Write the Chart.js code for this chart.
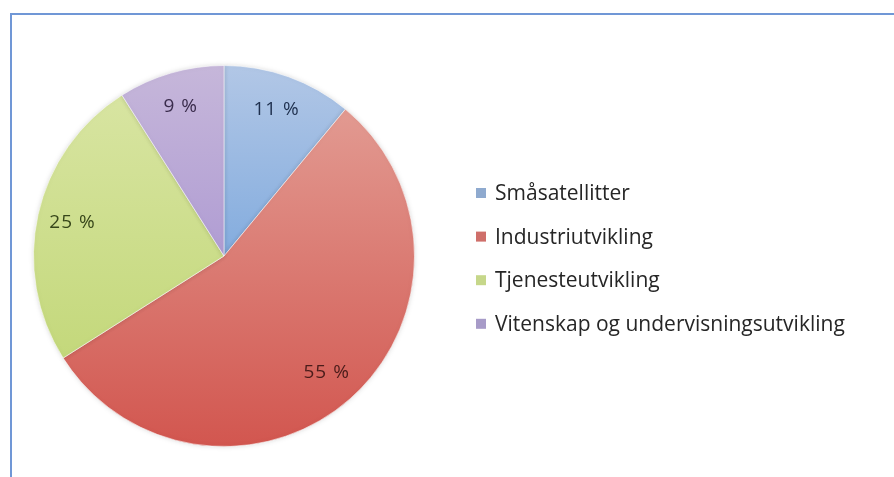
<!DOCTYPE html>
<html>
<head>
<meta charset="utf-8">
<title>Fordeling av midler</title>
<script src="https://cdn.jsdelivr.net/npm/chart.js@4/dist/chart.umd.min.js"></script>
<style>
  html, body { margin: 0; padding: 0; background: #ffffff; }
  #wrap { position: relative; width: 894px; height: 477px; overflow: hidden; }
  #c { position: absolute; left: 0; top: 0; }
  #frame {
    position: absolute; left: 10px; top: 13px; right: -6px; bottom: -6px;
    border-top: 2px solid #7097d6; border-left: 2px solid #7097d6;
    pointer-events: none;
  }
</style>
</head>
<body>
<div id="wrap">
  <canvas id="c" width="894" height="477"></canvas>
  <div id="frame"></div>
</div>
<script>
// Categories and their shares (percent)
const categories = ['Småsatellitter', 'Industriutvikling', 'Tjenesteutvikling', 'Vitenskap og undervisningsutvikling'];
const shares = [11, 55, 25, 9];
const shareLabels = shares.map(v => v + ' %');

// Slice fills: light at the top of the pie, deeper towards the bottom
const topColors    = ['#b2c7e6', '#e4a39a', '#dae6a6', '#c6b7da'];
const bottomColors = ['#5491d6', '#d2564f', '#bdd46e', '#9a82cc'];
const valueTextColors = ['#1e2f4d', '#4a1c1a', '#37461a', '#3a2c4c'];
const legendColors = ['#8faacf', '#cf6f6a', '#c6d78a', '#a79bc8'];

function sliceFill(ctx) {
  const chart = ctx.chart;
  const area = chart.chartArea;
  const i = ctx.dataIndex;
  if (!area) return topColors[i];
  const g = chart.ctx.createLinearGradient(0, area.top, 0, area.bottom);
  g.addColorStop(0, topColors[i]);
  g.addColorStop(1, bottomColors[i]);
  return g;
}

// Percent labels placed along each slice's mid angle
const sliceLabels = {
  id: 'sliceLabels',
  afterDatasetsDraw(chart) {
    const ctx = chart.ctx;
    const meta = chart.getDatasetMeta(0);
    ctx.save();
    ctx.font = '19px "Open Sans", sans-serif';
    ctx.letterSpacing = '1px';
    ctx.textAlign = 'center';
    ctx.textBaseline = 'middle';
    meta.data.forEach((arc, i) => {
      const p = arc.getProps(['x', 'y', 'startAngle', 'endAngle', 'outerRadius'], true);
      const mid = (p.startAngle + p.endAngle) / 2;
      const r = p.outerRadius * 0.815;
      ctx.fillStyle = valueTextColors[i];
      ctx.fillText(shareLabels[i], p.x + Math.cos(mid) * r, p.y + Math.sin(mid) * r);
    });
    ctx.restore();
  }
};

// Legend column to the right of the pie
const sideLegend = {
  id: 'sideLegend',
  afterDraw(chart) {
    const ctx = chart.ctx;
    const x0 = 476, y0 = 193, step = 43.6, box = 10;
    ctx.save();
    ctx.font = '21px "Open Sans", sans-serif';
    ctx.textAlign = 'left';
    ctx.textBaseline = 'middle';
    chart.data.labels.forEach((label, i) => {
      const y = y0 + i * step;
      ctx.fillStyle = legendColors[i];
      ctx.fillRect(x0, y - box / 2, box, box);
      ctx.fillStyle = '#262626';
      ctx.fillText(label, x0 + 19, y + 1);
    });
    ctx.restore();
  }
};

// Soft edge around the pie
const softEdge = {
  id: 'softEdge',
  beforeDatasetDraw(chart) {
    const ctx = chart.ctx;
    ctx.save();
    ctx.shadowColor = 'rgba(0,0,0,0.14)';
    ctx.shadowBlur = 5;
  },
  afterDatasetDraw(chart) {
    chart.ctx.restore();
  }
};

new Chart(document.getElementById('c'), {
  type: 'pie',
  data: {
    labels: categories,
    datasets: [{
      data: shares,
      backgroundColor: sliceFill,
      borderColor: 'rgba(255,255,255,0.55)',
      borderWidth: 1
    }]
  },
  options: {
    responsive: false,
    animation: false,
    layout: { padding: { left: 33, right: 479, top: 65, bottom: 30 } },
    plugins: {
      legend: { display: false },
      tooltip: { enabled: false }
    }
  },
  plugins: [softEdge, sliceLabels, sideLegend]
});
</script>
</body>
</html>
